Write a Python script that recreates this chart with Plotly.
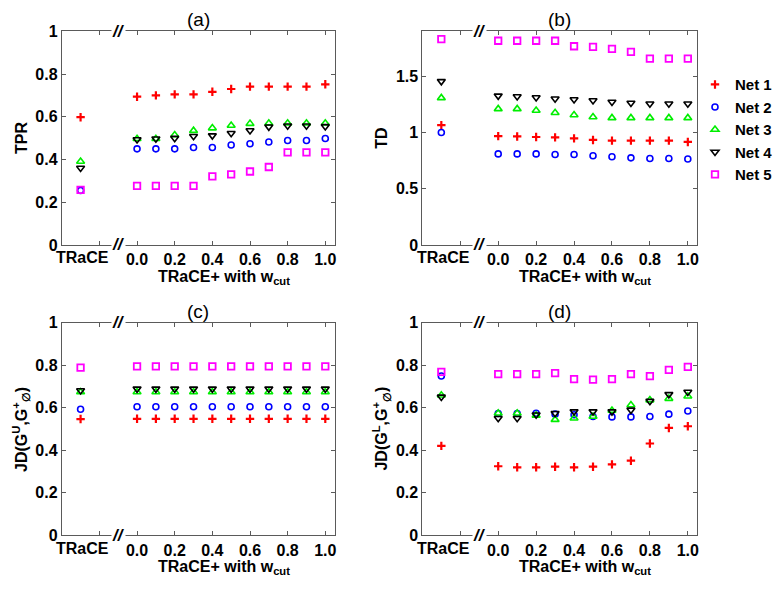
import plotly.graph_objects as go

# ---------------- data ----------------
W_CUT = [0.0, 0.1, 0.2, 0.3, 0.4, 0.5, 0.6, 0.7, 0.8, 0.9, 1.0]
TRACE_POS = -0.3          # x-position used for the TRaCE column
NETS = ["Net 1", "Net 2", "Net 3", "Net 4", "Net 5"]

# (a) TPR : first value = TRaCE, then TRaCE+ for each w_cut
tpr_net1 = [0.598, 0.694, 0.700, 0.705, 0.705, 0.717, 0.730, 0.741, 0.741, 0.741, 0.741, 0.752]
tpr_net2 = [0.255, 0.450, 0.450, 0.450, 0.456, 0.456, 0.468, 0.474, 0.482, 0.489, 0.489, 0.498]
tpr_net3 = [0.391, 0.497, 0.497, 0.515, 0.535, 0.547, 0.559, 0.568, 0.570, 0.570, 0.570, 0.570]
tpr_net4 = [0.360, 0.494, 0.497, 0.500, 0.509, 0.512, 0.523, 0.536, 0.553, 0.558, 0.558, 0.555]
tpr_net5 = [0.258, 0.277, 0.277, 0.277, 0.277, 0.321, 0.330, 0.344, 0.365, 0.433, 0.433, 0.433]

# (b) TD
td_net1 = [1.066, 0.968, 0.965, 0.960, 0.957, 0.948, 0.934, 0.928, 0.928, 0.928, 0.928, 0.916]
td_net2 = [1.000, 0.810, 0.810, 0.810, 0.804, 0.804, 0.793, 0.784, 0.775, 0.769, 0.769, 0.764]
td_net3 = [1.308, 1.210, 1.210, 1.196, 1.176, 1.156, 1.138, 1.130, 1.130, 1.130, 1.130, 1.130]
td_net4 = [1.455, 1.326, 1.320, 1.311, 1.300, 1.294, 1.285, 1.271, 1.262, 1.256, 1.256, 1.256]
td_net5 = [1.830, 1.816, 1.816, 1.816, 1.816, 1.767, 1.761, 1.744, 1.718, 1.657, 1.657, 1.657]

# (c) JD(G^U, G^+)
jdu_net1 = [0.547, 0.548, 0.548, 0.548, 0.548, 0.548, 0.548, 0.548, 0.548, 0.548, 0.548, 0.548]
jdu_net2 = [0.593, 0.605, 0.605, 0.605, 0.605, 0.605, 0.605, 0.605, 0.605, 0.605, 0.605, 0.605]
jdu_net3 = [0.674, 0.674, 0.674, 0.674, 0.674, 0.674, 0.674, 0.674, 0.674, 0.674, 0.674, 0.674]
jdu_net4 = [0.681, 0.689, 0.689, 0.689, 0.689, 0.689, 0.689, 0.689, 0.689, 0.689, 0.689, 0.689]
jdu_net5 = [0.789, 0.795, 0.795, 0.795, 0.795, 0.795, 0.795, 0.795, 0.795, 0.795, 0.795, 0.795]

# (d) JD(G^L, G^+)
jdl_net1 = [0.421, 0.325, 0.320, 0.320, 0.323, 0.320, 0.323, 0.334, 0.351, 0.432, 0.505, 0.513]
jdl_net2 = [0.749, 0.573, 0.573, 0.574, 0.570, 0.567, 0.559, 0.557, 0.557, 0.559, 0.570, 0.585]
jdl_net3 = [0.659, 0.574, 0.574, 0.564, 0.544, 0.551, 0.559, 0.587, 0.613, 0.636, 0.643, 0.654]
jdl_net4 = [0.651, 0.551, 0.551, 0.567, 0.574, 0.582, 0.582, 0.582, 0.590, 0.631, 0.663, 0.674]
jdl_net5 = [0.769, 0.758, 0.758, 0.758, 0.763, 0.735, 0.732, 0.735, 0.758, 0.749, 0.778, 0.792]

X_TICKVALS = [-0.2, 0.0, 0.2, 0.4, 0.6, 0.8, 1.0]
X_TICKTEXT = ["", "0.0", "0.2", "0.4", "0.6", "0.8", "1.0"]
Y01_TICKVALS = [0, 0.2, 0.4, 0.6, 0.8, 1.0]
Y01_TICKTEXT = ["0", "0.2", "0.4", "0.6", "0.8", "1"]
YTD_TICKVALS = [0, 0.5, 1.0, 1.5]
YTD_TICKTEXT = ["0", "0.5", "1", "1.5"]

panels = [
    dict(name="(a)", ytitle="TPR", data=[tpr_net1, tpr_net2, tpr_net3, tpr_net4, tpr_net5],
         yrange=[0, 1], yt=(Y01_TICKVALS, Y01_TICKTEXT)),
    dict(name="(b)", ytitle="TD", data=[td_net1, td_net2, td_net3, td_net4, td_net5],
         yrange=[0, 1.9], yt=(YTD_TICKVALS, YTD_TICKTEXT)),
    dict(name="(c)", ytitle="JD(G<sup>U</sup>,G<sup>+</sup><sub>\u2205</sub>)",
         data=[jdu_net1, jdu_net2, jdu_net3, jdu_net4, jdu_net5],
         yrange=[0, 1], yt=(Y01_TICKVALS, Y01_TICKTEXT)),
    dict(name="(d)", ytitle="JD(G<sup>L</sup>,G<sup>+</sup><sub>\u2205</sub>)",
         data=[jdl_net1, jdl_net2, jdl_net3, jdl_net4, jdl_net5],
         yrange=[0, 1], yt=(Y01_TICKVALS, Y01_TICKTEXT)),
]

# ---------------- styles ----------------
W, H = 778, 591
FONT = "Liberation Sans, Arial, sans-serif"
AXIS_COLOR = "#5a5a5a"
styles = [
    dict(symbol="cross-thin-open", color="#ff0000", size=6, lw=2.2),
    dict(symbol="circle-open", color="#0000ff", size=6, lw=1.6),
    dict(symbol="triangle-up-open", color="#00ee00", size=7, lw=1.6),
    dict(symbol="triangle-down-open", color="#000000", size=7, lw=1.6),
    dict(symbol="square-open", color="#ff00ff", size=6.5, lw=1.8),
]

# pixel boxes: (left, right, top, bottom)
boxes = [(62, 336, 24, 244), (424, 700, 24, 244), (62, 336, 324, 543), (424, 700, 324, 543)]
XR = [-0.4, 1.05]

fig = go.Figure()
x_all = [TRACE_POS] + W_CUT
annotations = []

for i, (p, box) in enumerate(zip(panels, boxes)):
    k = "" if i == 0 else str(i + 1)
    l, r, t, b = box
    for j, (series, st) in enumerate(zip(p["data"], styles)):
        fig.add_trace(go.Scatter(
            x=x_all, y=series, mode="markers", name="<b>" + NETS[j] + "</b>",
            legendgroup=NETS[j], showlegend=(i == 0),
            marker=dict(symbol=st["symbol"], size=st["size"], color=st["color"],
                        line=dict(color=st["color"], width=st["lw"])),
            xaxis="x" + k, yaxis="y" + k))
    axis_common = dict(showgrid=False, zeroline=False, showline=True, mirror="ticks",
                       linecolor=AXIS_COLOR, linewidth=1, ticks="inside", ticklen=4,
                       tickcolor=AXIS_COLOR,
                       tickfont=dict(family=FONT, size=16, color="black", weight="bold"))
    fig.layout["xaxis" + k] = dict(
        domain=[l / W, r / W], range=XR, anchor="y" + k,
        tickvals=X_TICKVALS, ticktext=X_TICKTEXT, **axis_common)
    fig.layout["yaxis" + k] = dict(
        domain=[1 - b / H, 1 - t / H], range=p["yrange"], anchor="x" + k,
        tickvals=p["yt"][0], ticktext=p["yt"][1], **axis_common)

    xref, yref = "x" + k, "y" + k
    # panel title
    annotations.append(dict(text=p["name"], x=(l + r) / 2 / W, y=1 - (t - 12) / H,
                            xref="paper", yref="paper", showarrow=False,
                            font=dict(family=FONT, size=19, color="black"),
                            xanchor="center", yanchor="middle"))
    # y title
    annotations.append(dict(text="<b>" + p["ytitle"] + "</b>", x=(l - 41) / W,
                            y=1 - (t + b) / 2 / H, xref="paper", yref="paper",
                            showarrow=False, textangle=-90,
                            font=dict(family=FONT, size=16, color="black"),
                            xanchor="center", yanchor="middle"))
    # TRaCE category label
    annotations.append(dict(text="<b>TRaCE</b>", x=-0.29, xref=xref,
                            y=1 - (b + 13) / H, yref="paper", showarrow=False,
                            font=dict(family=FONT, size=16, color="black"),
                            xanchor="center", yanchor="middle"))
    # x title
    annotations.append(dict(text="<b>TRaCE+ with w<sub>cut</sub></b>", x=0.46, xref=xref,
                            y=1 - (b + 33) / H, yref="paper", showarrow=False,
                            font=dict(family=FONT, size=16, color="black"),
                            xanchor="center", yanchor="middle"))
    # axis break marks
    for yy in (0, 1):
        annotations.append(dict(text="<b><i>//</i></b>", x=-0.1, xref=xref, y=yy,
                                yref=yref + " domain", showarrow=False,
                                font=dict(family=FONT, size=17, color="black"),
                                bgcolor="white", borderpad=0,
                                xanchor="center", yanchor="middle"))

fig.update_layout(
    width=W, height=H, margin=dict(l=0, r=0, t=0, b=0),
    paper_bgcolor="white", plot_bgcolor="white",
    annotations=annotations,
    legend=dict(x=(718 - 20) / W, y=1 - 62 / H, xanchor="left", yanchor="top",
                font=dict(family=FONT, size=15, color="black"),
                itemwidth=30, tracegroupgap=0, bgcolor="rgba(0,0,0,0)"),
)

fig.write_html("out.html", config={"displayModeBar": False},
               post_script="document.body.style.margin='0';document.body.style.overflow='hidden';")
